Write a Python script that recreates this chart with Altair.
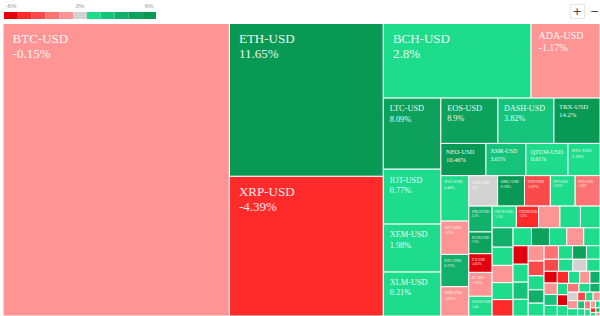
import altair as alt
import pandas as pd

# ---------------- data ----------------
names = ["BTC", "ETH", "XRP", "BCH", "ADA", "LTC", "IOT", "XEM", "XLM",
         "EOS", "DASH", "TRX", "NEO", "XMR", "QTUM", "BTG",
         "XVG", "ZEC", "ETC", "BNB", "LSK", "OMG", "VEN", "PPT", "BTS",
         "STRAT", "NANO", "ICX", "SC", "WAVES",
         "DOGE", "STEEM", "SNT", "REP", "DGD", "ARDR", "KMD", "ARK", "DCR", "HSR",
         "GNT", "MONA", "ETN", "ZRX", "QASH", "PIVX", "SYS", "DGB", "BAT", "KNC",
         "FCT", "GAS", "SALT", "MAID", "AE", "RHOC", "FUN", "ELF", "POWR", "NXT",
         "XZC", "GBYTE", "WTC", "LRC", "BTM", "AION", "ZIL", "DENT", "VERI", "GXS",
         "NEBL", "ENG", "CVC", "GNO", "MANA", "BCN", "ETHOS", "REQ", "NAS", "ICN",
         "SUB", "LINK", "STORM", "DRGN", "POLY", "KIN", "NULS", "XP", "BNT", "PAY",
         "CND", "SMART"]

# market cap, $bn
caps = [170.0, 60.4, 55.2, 28.3, 13.2, 10.5, 8.11, 7.08, 6.49,
        6.64, 6.52, 5.36, 3.73, 3.31, 3.48, 2.65,
        3.26, 2.39, 2.32, 2.10, 2.25, 2.10, 2.02, 1.94, 1.94,
        1.55, 1.30, 1.12, 1.43, 1.18,
        1.35, 1.24, 1.19, 1.14, 1.09, 1.04, 0.98, 0.93, 0.91, 0.88,
        0.85, 0.83, 0.80, 0.78, 0.75, 0.72, 0.70, 0.67, 0.65, 0.62,
        0.60, 0.57, 0.54, 0.52, 0.50, 0.49, 0.48, 0.47, 0.45, 0.44,
        0.43, 0.41, 0.40, 0.39, 0.375, 0.36, 0.35, 0.34, 0.32, 0.31,
        0.30, 0.285, 0.27, 0.26, 0.245, 0.23, 0.22, 0.21, 0.19, 0.18,
        0.17, 0.155, 0.14, 0.13, 0.12, 0.10, 0.09, 0.08, 0.065, 0.05,
        0.047, 0.039]

# 24h change, %
changes = [-0.15, 11.65, -4.39, 2.8, -1.17, 8.09, 0.77, 1.98, 0.21,
           8.9, 3.82, 14.2, 10.46, 3.05, 0.61, 2.19,
           0.48, -0.9, 6.73, -0.63, 0, 9.18, -2.87, 1.65, -1.6,
           5.1, 7.5, -4.63, -1.02, 1.4,
           1.2, -3.9, -1.1, 2.1, 0.9, 5.6, 1.8, -0.8, 2.4, -4.1,
           1.5, 7.8, 0.6, -1.3, 2.7, -5.2, 1.1, 4.4, 2.2, -0.5,
           -3.3, 1.7, 6.1, 0.8, -1.9, 2.5, 8.3, 1.3, -2.6, 0.4,
           0, 2.9, -5.8, -0.7, 4.9, 1.9, -3.6, 0.3, -1.4, 6.6,
           2.0, -4.9, 1.0, -2.1, 0.7, 5.3, 0, -1.2, 1.6, -2.9,
           2.3, -0.4, 3.7, 0.9, -1.8, 1.4, -0.6, 2.6, -4.4, 1.1,
           5.9, -1.0]

# strip grouping of the treemap (last strip is squarified)
strip = ([0] + [1] * 2 + [2] * 2 + [3] * 4 + [4] * 3 + [5] * 4 + [6] * 4 + [7] * 5 + [8] * 5
         + [9] * 62)
strip_dirs = ["col", "col", "row", "col", "row", "row", "col", "row", "col", "squarify"]

# colour bins
color_thresholds = [-4.5, -3.5, -2.5, -1.5, -0.0001, 0.0001, 3, 5, 7, 9]
color_range = ["#E2000E", "#FF2B2B", "#F84A4A", "#FB7373", "#FF9494", "#D2D2D2",
               "#1DDC8B", "#15C47A", "#10B06A", "#0CA25C", "#089A55"]
legend_values = [-5, -4, -3, -2, -1, 0, 1, 4, 6, 8, 10]
legend_labels = ["-6%", "0%", "6%"]

# ---------------- treemap layout ----------------
X0, Y0, W, H = 3.0, 23.5, 597.0, 292.5
n = len(names)
total = sum(caps)
areas = [c * W * H / total for c in caps]
rects = [None] * n


def worst(row, side):
    s = sum(row)
    return max(side * side * max(row) / (s * s), s * s / (side * side * min(row)))


def squarify(idx, x, y, w, h):
    i = 0
    while i < len(idx):
        side = min(w, h)
        row = [idx[i]]
        i += 1
        while i < len(idx):
            cur = [areas[j] for j in row]
            if worst(cur + [areas[idx[i]]], side) <= worst(cur, side):
                row.append(idx[i])
                i += 1
            else:
                break
        s = sum(areas[j] for j in row)
        if w >= h:
            cw = s / h
            yy = y
            for j in row:
                rh = areas[j] / cw
                rects[j] = (x, yy, x + cw, yy + rh)
                yy += rh
            x += cw
            w -= cw
        else:
            rh = s / w
            xx = x
            for j in row:
                rw = areas[j] / rh
                rects[j] = (xx, y, xx + rw, y + rh)
                xx += rw
            y += rh
            h -= rh


x, y, w, h = X0, Y0, W, H
for g, d in enumerate(strip_dirs):
    idx = [i for i in range(n) if strip[i] == g]
    if d == "squarify":
        squarify(idx, x, y, w, h)
        break
    s = sum(areas[i] for i in idx)
    if d == "col":
        cw = s / h
        yy = y
        for i in idx:
            rh = areas[i] / cw
            rects[i] = (x, yy, x + cw, yy + rh)
            yy += rh
        x += cw
        w -= cw
    else:
        rh = s / w
        xx = x
        for i in idx:
            rw = areas[i] / rh
            rects[i] = (xx, y, xx + rw, y + rh)
            xx += rw
        y += rh
        h -= rh

rows = []
for i in range(n):
    x1, y1, x2, y2 = rects[i]
    cw, ch = x2 - x1, y2 - y1
    fs = min(13.0, cw / 6.9)
    show = cw >= 22 and ch >= 2.6 * fs + 4
    rows.append(dict(
        name=names[i] + "-USD", cap=caps[i], chg=changes[i],
        x=x1, x2=x2, y=y1, y2=y2,
        fs=fs, show=show,
        tx=x1 + 0.7 * fs + 0.5,
        ty1=y1 + 1.3 * fs + 2.5,
        ty2=y1 + 2.45 * fs + 3.0,
        pct=f"{changes[i]:g}%",
    ))
df = pd.DataFrame(rows)
lab = df[df["show"]]

# legend blocks
LX0, LX1 = 4.0, 156.0
bw = (LX1 - LX0) / len(legend_values)
leg = pd.DataFrame(dict(
    chg=legend_values,
    x=[LX0 + k * bw for k in range(len(legend_values))],
    x2=[LX0 + (k + 1) * bw for k in range(len(legend_values))],
    y=[12.0] * len(legend_values), y2=[19.0] * len(legend_values)))
leg_lab = pd.DataFrame(dict(
    text=legend_labels,
    x=[LX0 + (k + 0.5) * bw for k in (0, 5, 10)],
    y=[8.0] * 3))

controls = pd.DataFrame(dict(text=["+", "\u2212"], x=[577.0, 594.5], y=[15.0, 15.0]))
ctrl_box = pd.DataFrame(dict(x=[570.5], x2=[584.5], y=[4.5], y2=[18.5]))

# ---------------- chart ----------------
xs = alt.Scale(domain=[0, 600], nice=False, zero=False)
ys = alt.Scale(domain=[0, 316], nice=False, zero=False, reverse=True)
cscale = alt.Scale(type="threshold", domain=color_thresholds, range=color_range)

cells = alt.Chart(df).mark_rect(stroke="white", strokeWidth=1).encode(
    x=alt.X("x:Q", scale=xs, axis=None), x2="x2:Q",
    y=alt.Y("y:Q", scale=ys, axis=None), y2="y2:Q",
    color=alt.Color("chg:Q", scale=cscale, legend=None),
    tooltip=["name:N", "cap:Q", "chg:Q"],
)

name_txt = alt.Chart(lab).mark_text(
    align="left", baseline="alphabetic", font="Liberation Serif",
    color="white", opacity=0.92).encode(
    x=alt.X("tx:Q", scale=xs, axis=None),
    y=alt.Y("ty1:Q", scale=ys, axis=None),
    text="name:N",
    size=alt.Size("fs:Q", scale=None),
)
pct_txt = alt.Chart(lab).mark_text(
    align="left", baseline="alphabetic", font="Liberation Serif",
    color="white", opacity=0.92).encode(
    x=alt.X("tx:Q", scale=xs, axis=None),
    y=alt.Y("ty2:Q", scale=ys, axis=None),
    text="pct:N",
    size=alt.Size("fs:Q", scale=None),
)

legend_rects = alt.Chart(leg).mark_rect().encode(
    x=alt.X("x:Q", scale=xs, axis=None), x2="x2:Q",
    y=alt.Y("y:Q", scale=ys, axis=None), y2="y2:Q",
    color=alt.Color("chg:Q", scale=cscale, legend=None),
)
legend_text = alt.Chart(leg_lab).mark_text(
    fontSize=6, color="#999999", font="Liberation Sans", baseline="alphabetic").encode(
    x=alt.X("x:Q", scale=xs, axis=None),
    y=alt.Y("y:Q", scale=ys, axis=None),
    text="text:N",
)

box = alt.Chart(ctrl_box).mark_rect(fill="white", stroke="#e6e6e6", strokeWidth=1).encode(
    x=alt.X("x:Q", scale=xs, axis=None), x2="x2:Q",
    y=alt.Y("y:Q", scale=ys, axis=None), y2="y2:Q",
)
ctrl_txt = alt.Chart(controls).mark_text(
    fontSize=11, color="#444444", font="DejaVu Sans", baseline="alphabetic").encode(
    x=alt.X("x:Q", scale=xs, axis=None),
    y=alt.Y("y:Q", scale=ys, axis=None),
    text="text:N",
)

chart = alt.layer(cells, name_txt, pct_txt, legend_rects, legend_text, box, ctrl_txt).properties(
    width=600, height=316, padding=0, autosize="none", background="white"
).configure_view(stroke=None)

chart.save("out.html", embed_options={"renderer": "svg", "actions": False})
